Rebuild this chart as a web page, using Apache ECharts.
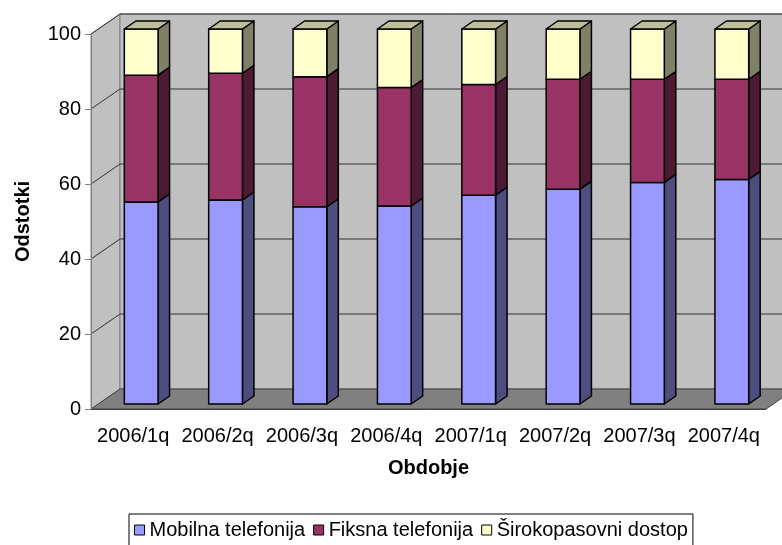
<!DOCTYPE html>
<html>
<head>
<meta charset="utf-8">
<title>ECharts</title>
<script src="https://cdn.jsdelivr.net/npm/echarts@6/dist/echarts.min.js"></script>
</head>
<body style="margin:0;background:#fff">
<div id="main" style="width:782px;height:545px;"></div>
<script type="text/javascript">
var categories = ['2006/1q', '2006/2q', '2006/3q', '2006/4q', '2007/1q', '2007/2q', '2007/3q', '2007/4q'];
var mobilna = [53.9, 54.4, 52.6, 52.8, 55.7, 57.3, 59.1, 59.9];
var fiksna = [33.8, 33.8, 34.7, 31.6, 29.5, 29.3, 27.5, 26.7];
var sirokopasovni = [12.3, 11.8, 12.7, 15.6, 14.8, 13.4, 13.4, 13.4];
var seriesNames = ['Mobilna telefonija', 'Fiksna telefonija', 'Širokopasovni dostop'];

// barve: sprednja ploskev, stranska, zgornja
var colors = [
    ['#9999ff', '#4d4d80', '#7373bf'],
    ['#993366', '#4d1a33', '#732650'],
    ['#ffffcc', '#808066', '#bfbf99']
];

var WALL = [29, 20];       // globina stene
var BAR_OFF = [8, 5];      // zamik stolpca od sprednje ravnine
var BAR_DEPTH = [11.5, 8]; // globina stolpca
var FONT = 'Liberation Sans, Arial, sans-serif';

var myChart = echarts.init(document.getElementById('main'));

// kumulativni podatki za zlaganje
var stacks = [mobilna, fiksna, sirokopasovni];
var cum = categories.map(function() { return 0; });
var stackData = stacks.map(function(arr) {
    return arr.map(function(v, i) {
        var lo = cum[i];
        cum[i] = lo + v;
        return [i, lo, cum[i]];
    });
});

function renderWalls(params, api) {
    var cs = params.coordSys;
    var gx = cs.x, gy = cs.y, gw = cs.width, gh = cs.height;
    var dx = WALL[0], dy = WALL[1];
    var children = [
        {
            type: 'polygon',
            shape: { points: [[gx, gy], [gx + dx, gy - dy], [gx + dx, gy + gh - dy], [gx, gy + gh]] },
            style: { fill: '#c0c0c0', stroke: '#808080', lineWidth: 1 }
        },
        {
            type: 'rect',
            shape: { x: gx + dx, y: gy - dy, width: gw, height: gh },
            style: { fill: '#c0c0c0', stroke: '#808080', lineWidth: 1 }
        },
        {
            type: 'polygon',
            shape: { points: [[gx, gy + gh], [gx + gw, gy + gh], [gx + gw + dx, gy + gh - dy], [gx + dx, gy + gh - dy]] },
            style: { fill: '#808080', stroke: '#404040', lineWidth: 1 }
        }
    ];
    for (var v = 20; v <= 100; v += 20) {
        var y = api.coord([0, v])[1];
        children.push({
            type: 'polyline',
            shape: { points: [[gx, y], [gx + dx, y - dy], [gx + gw + dx, y - dy]] },
            style: { stroke: '#303030', lineWidth: 1, fill: null }
        });
    }
    return { type: 'group', children: children };
}

function makeBarRenderer(k) {
    return function(params, api) {
        var idx = api.value(0);
        var p0 = api.coord([idx, api.value(1)]);
        var p1 = api.coord([idx, api.value(2)]);
        var band = api.size([1, 0])[0];
        var w = band * 0.4;
        var x0 = p0[0] - w / 2 + BAR_OFF[0];
        var x1 = x0 + w;
        var yb = p0[1] - BAR_OFF[1];
        var yt = p1[1] - BAR_OFF[1];
        var dx = BAR_DEPTH[0], dy = BAR_DEPTH[1];
        var c = colors[k];
        var st = { stroke: '#000', lineWidth: 1.5, lineJoin: 'round' };
        var children = [
            {
                type: 'polygon',
                shape: { points: [[x1, yt], [x1 + dx, yt - dy], [x1 + dx, yb - dy], [x1, yb]] },
                style: echarts.util.extend({ fill: c[1] }, st)
            },
            {
                type: 'rect',
                shape: { x: x0, y: yt, width: w, height: yb - yt },
                style: echarts.util.extend({ fill: c[0] }, st)
            }
        ];
        if (k === stacks.length - 1) {
            children.push({
                type: 'polygon',
                shape: { points: [[x0, yt], [x1, yt], [x1 + dx, yt - dy], [x0 + dx, yt - dy]] },
                style: echarts.util.extend({ fill: c[2] }, st)
            });
        }
        return { type: 'group', children: children };
    };
}

var series = [{
    name: 'walls',
    type: 'custom',
    renderItem: renderWalls,
    data: [[0, 0]],
    z: 1,
    silent: true
}];
stacks.forEach(function(arr, k) {
    series.push({
        name: seriesNames[k],
        type: 'custom',
        renderItem: makeBarRenderer(k),
        itemStyle: { color: colors[k][0] },
        encode: { x: 0, y: 2 },
        data: stackData[k],
        z: 3
    });
});

var option = {
    animation: false,
    backgroundColor: '#fff',
    textStyle: { fontFamily: FONT },
    grid: { left: 91, right: 16, top: 34, bottom: 136, outerBoundsMode: 'none' },
    legend: {
        data: seriesNames.map(function(n, k) {
            return { name: n, icon: 'rect', itemStyle: { color: colors[k][0], borderColor: '#000', borderWidth: 1 } };
        }),
        left: 129,
        top: 514,
        itemWidth: 10,
        itemHeight: 10,
        itemGap: 8,
        padding: [6, 5, 6, 5],
        borderColor: '#000',
        borderWidth: 1,
        backgroundColor: '#fff',
        textStyle: { fontSize: 20, color: '#000', fontFamily: FONT }
    },
    xAxis: {
        type: 'category',
        data: categories,
        z: 5,
        name: 'Obdobje',
        nameLocation: 'middle',
        nameGap: 49,
        nameTextStyle: { fontSize: 20, fontWeight: 'bold', color: '#000', fontFamily: FONT },
        axisLine: { lineStyle: { color: '#404040' } },
        axisTick: { length: 6, lineStyle: { color: '#404040' } },
        axisLabel: { fontSize: 20, color: '#000', margin: 17, interval: 0, fontFamily: FONT },
        splitLine: { show: false }
    },
    yAxis: {
        type: 'value',
        min: 0,
        max: 100,
        interval: 20,
        z: 5,
        name: 'Odstotki',
        nameLocation: 'middle',
        nameGap: 58,
        nameTextStyle: { fontSize: 20, fontWeight: 'bold', color: '#000', fontFamily: FONT },
        axisLine: { show: true, lineStyle: { color: '#808080' } },
        axisTick: { show: true, length: 6, lineStyle: { color: '#808080' } },
        axisLabel: { fontSize: 20, color: '#000', margin: 10, fontFamily: FONT },
        splitLine: { show: false }
    },
    series: series
};

myChart.setOption(option);
</script>
</body>
</html>
